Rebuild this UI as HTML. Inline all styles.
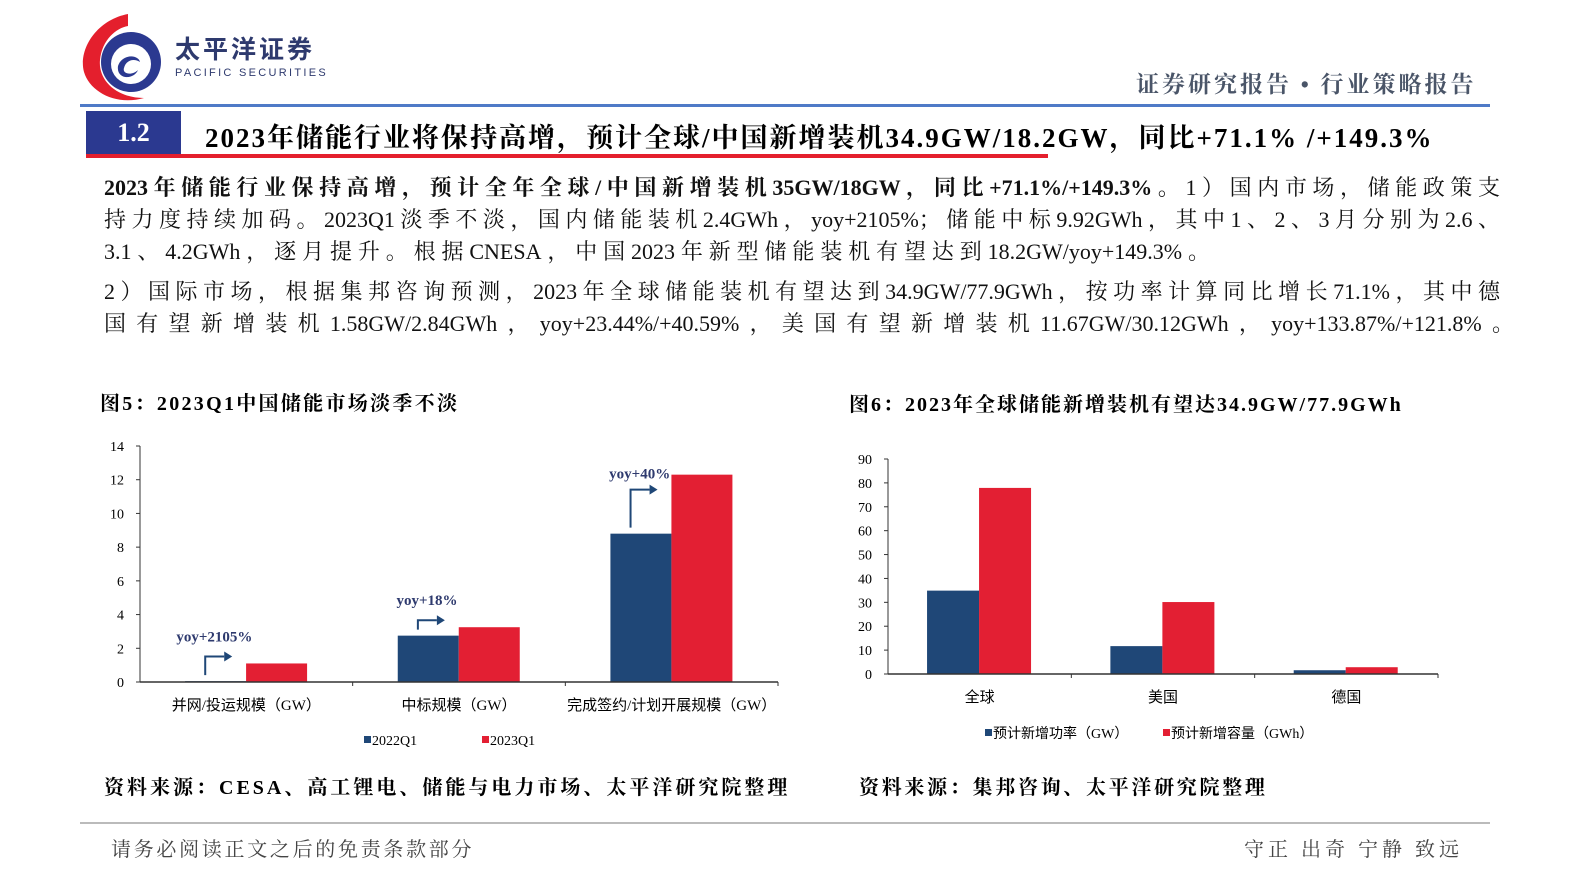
<!DOCTYPE html>
<html><head><meta charset="utf-8">
<style>
body{margin:0;width:1587px;height:892px;background:#fff;position:relative;overflow:hidden;font-family:"Liberation Serif","Noto Serif CJK SC",serif;}
.a{position:absolute;white-space:nowrap;}
.ln{position:absolute;left:104px;font-size:22px;color:#111;white-space:nowrap;text-align:justify;text-align-last:justify;}
</style></head><body>
<svg class="a" style="left:76px;top:10px" width="95" height="95">
<path d="M52 4 C20 10 2 40 8 62 C14 82 40 96 68 88 C40 88 22 70 24 50 C26 30 40 18 52 16 Z" fill="#e41f2d"/>
<circle cx="55" cy="52" r="30" fill="#2b3990"/>
<circle cx="55" cy="54" r="20" fill="#fff"/>
<path d="M42 56 C46 44 62 44 64 52 C58 48 50 50 48 58 C46 64 56 66 62 60 C58 70 40 70 42 56Z" fill="#2b3990"/>
</svg>
<div class="a" style="left:175px;top:38px;font-family:'Liberation Sans','Noto Sans CJK SC',sans-serif;font-weight:bold;font-size:25px;line-height:25px;color:#2e3a6e;letter-spacing:3px">太平洋证券</div>
<div class="a" style="left:175px;top:67px;font-family:'Liberation Sans',sans-serif;font-size:11px;line-height:12px;color:#2e3a6e;letter-spacing:2.3px">PACIFIC SECURITIES</div>
<div class="a" style="left:1136px;top:66px;font-size:23px;font-weight:bold;color:#4a5568;letter-spacing:3px">证券研究报告 • 行业策略报告</div>
<div class="a" style="left:80px;top:104px;width:1410px;height:3px;background:#4f7ac7"></div>
<div class="a" style="left:86px;top:111px;width:95px;height:44px;background:#2b3990;color:#fff;font-size:26px;font-weight:bold;text-align:center;line-height:44px">1.2</div>
<div class="a" style="left:205px;top:116px;font-size:27px;font-weight:bold;color:#000;letter-spacing:2px">2023年储能行业将保持高增，预计全球/中国新增装机34.9GW/18.2GW，同比+71.1% /+149.3%</div>
<div class="a" style="left:86px;top:154px;width:962px;height:4px;background:#e41f2d"></div>

<div class="ln" style="top:171px;width:1396px"><b>2023年储能行业保持高增，预计全年全球/中国新增装机35GW/18GW，同比+71.1%/+149.3%。</b>1）国内市场，储能政策支</div>
<div class="ln" style="top:203px;width:1396px">持力度持续加码。2023Q1淡季不淡，国内储能装机2.4GWh，yoy+2105%；储能中标9.92GWh，其中1、2、3月分别为2.6、</div>
<div class="ln" style="top:235px;width:1106px">3.1、4.2GWh，逐月提升。根据CNESA，中国2023年新型储能装机有望达到18.2GW/yoy+149.3%。</div>
<div class="ln" style="top:275px;width:1396px">2）国际市场，根据集邦咨询预测，2023年全球储能装机有望达到34.9GW/77.9GWh，按功率计算同比增长71.1%，其中德</div>
<div class="ln" style="top:307px;width:1410px">国有望新增装机1.58GW/2.84GWh，yoy+23.44%/+40.59%，美国有望新增装机11.67GW/30.12GWh，yoy+133.87%/+121.8%。</div>

<div class="a" style="left:100px;top:387px;font-size:20px;font-weight:bold;letter-spacing:2.3px">图5：2023Q1中国储能市场淡季不淡</div>
<div class="a" style="left:849px;top:388px;font-size:20px;font-weight:bold;letter-spacing:2px">图6：2023年全球储能新增装机有望达34.9GW/77.9GWh</div>

<svg class="a" id="c1" style="left:0;top:0" width="1587" height="892"></svg>

<div class="a" style="left:104px;top:771px;font-size:20px;font-weight:bold;letter-spacing:3px">资料来源：CESA、高工锂电、储能与电力市场、太平洋研究院整理</div>
<div class="a" style="left:859px;top:771px;font-size:20px;font-weight:bold;letter-spacing:2.7px">资料来源：集邦咨询、太平洋研究院整理</div>
<div class="a" style="left:80px;top:822px;width:1410px;height:2px;background:#bbb"></div>
<div class="a" style="left:111px;top:833px;font-size:20px;color:#444;letter-spacing:2.7px">请务必阅读正文之后的免责条款部分</div>
<div class="a" style="left:1244px;top:833px;font-size:20px;color:#444;letter-spacing:4px">守正 出奇 宁静 致远</div>

<script>
const cats1=["并网/投运规模（GW）","中标规模（GW）","完成签约/计划开展规模（GW）"];
const s1a=[0.05,2.75,8.8];
const s1b=[1.1,3.25,12.3];
const yoy1=["yoy+2105%","yoy+18%","yoy+40%"];
const ticks1=[0,2,4,6,8,10,12,14];
const cats2=["全球","美国","德国"];
const s2a=[34.9,11.67,1.58];
const s2b=[77.9,30.12,2.84];
const ticks2=[0,10,20,30,40,50,60,70,80,90];
const NS="http://www.w3.org/2000/svg";
const svg=document.getElementById('c1');
function mk(t,at,txt){const e=document.createElementNS(NS,t);for(const k in at)e.setAttribute(k,at[k]);if(txt!==undefined)e.textContent=txt;svg.appendChild(e);return e;}
const BLUE="#1f4777",RED="#e31f33",F="'Liberation Serif','Noto Sans CJK SC',serif";
function chart(o){
  const y=v=>o.y0-(v/o.max)*(o.y0-o.y1);
  const gw=(o.x1-o.x0)/o.cats.length;
  const ax=mk('line',{x1:o.x0,y1:o.y1,x2:o.x0,y2:o.y0,stroke:'#333','stroke-width':1});
  
  o.ticks.forEach(t=>{
    mk('line',{x1:o.x0-4,y1:y(t),x2:o.x0,y2:y(t),stroke:'#333'});
    const l=mk('text',{x:o.x0-16,y:y(t)+5,'text-anchor':'end','font-size':14,'font-family':F},t);
    
  });
  o.cats.forEach((c,i)=>{
    const gx=o.x0+gw*i, bx=gx+gw*o.off;
    const b1=mk('rect',{x:bx,y:y(o.a[i]),width:o.bw,height:o.y0-y(o.a[i]),fill:BLUE});
    
    const b2=mk('rect',{x:bx+o.bw,y:y(o.b[i]),width:o.bw,height:o.y0-y(o.b[i]),fill:RED});
    
    mk('line',{x1:gx+gw,y1:o.y0,x2:gx+gw,y2:o.y0+4,stroke:'#333'});
    const cl=mk('text',{x:gx+gw/2,y:o.y0+28,'text-anchor':'middle','font-size':15,'font-family':F},c);
    
    if(o.yoy){
      const last=i==o.cats.length-1;
      const bot=y(o.a[i])-6;
      const top=last?y(o.a[i])-44:y(o.b[i])-7;
      const ly=last?y(o.b[i])+4:top-15;
      const axx=bx+o.bw*0.33;
      const yt=mk('text',{x:bx+o.bw*0.48,y:ly,'text-anchor':'middle','font-size':15,'font-weight':'bold',fill:'#2e3a6e','font-family':F},o.yoy[i]);
      
      mk('path',{d:`M${axx} ${bot} V${top} H${axx+19}`,fill:'none',stroke:BLUE,'stroke-width':2});
      mk('path',{d:`M${axx+19} ${top-5} L${axx+27} ${top} L${axx+19} ${top+5}Z`,fill:BLUE});
    }
  });
  const xa=mk('line',{x1:o.x0,y1:o.y0,x2:o.x1,y2:o.y0,stroke:'#333','stroke-width':1.5});
  
  o.leg.forEach((t,k)=>{
    mk('rect',{x:o.lx[k],y:o.ly-9,width:7,height:7,fill:k?RED:BLUE});
    const lt=mk('text',{x:o.lx[k]+8,y:o.ly,'font-size':14,'font-family':F},t);
    
  });
}
chart({p:'fig5',x0:140,x1:778,y0:682,y1:446,max:14,ticks:ticks1,cats:cats1,a:s1a,b:s1b,bw:61,off:0.212,yoy:yoy1,leg:["2022Q1","2023Q1"],lx:[364,482],ly:745});
chart({p:'fig6',x0:888,x1:1438,y0:674,y1:459,max:90,ticks:ticks2,cats:cats2,a:s2a,b:s2b,bw:52,off:0.213,leg:["预计新增功率（GW）","预计新增容量（GWh）"],lx:[985,1163],ly:738});
</script>
</body></html>
